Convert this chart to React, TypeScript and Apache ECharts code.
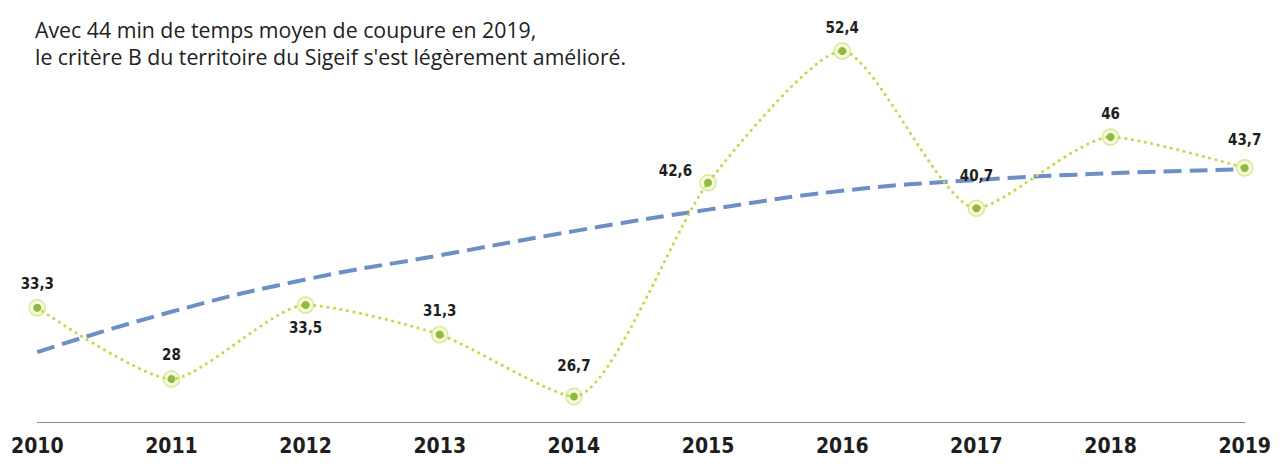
import React, { useEffect, useRef } from "react";
import * as echarts from "echarts";

const years = ["2010", "2011", "2012", "2013", "2014", "2015", "2016", "2017", "2018", "2019"];
const criterionB = [33.3, 28, 33.5, 31.3, 26.7, 42.6, 52.4, 40.7, 46, 43.7];
const trend = [30.0, 33.0, 35.4, 37.2, 39.0, 40.6, 42.0, 42.8, 43.3, 43.6];
const titleLines = [
  "Avec 44 min de temps moyen de coupure en 2019,",
  "le critère B du territoire du Sigeif s'est légèrement amélioré.",
];

const NARROW = "'Liberation Sans Narrow', 'DejaVu Sans Condensed', Roboto, sans-serif";

// label placement tweaks (styling only)
const labelStyleFor = (year: string): any => {
  if (year === "2012") return { position: "bottom", distance: 11 };
  if (year === "2015") return { position: "left", distance: 12, offset: [0, -12] };
  if (year === "2014") return { distance: 19 };
  if (year === "2017") return { distance: 21 };
  if (year === "2019") return { distance: 16 };
  return undefined;
};

export default function App() {
  const ref = useRef<HTMLDivElement>(null);
  useEffect(() => {
    if (!ref.current) return;
    const chart = echarts.init(ref.current, null, { renderer: "svg" });
    const greenData = criterionB.map((v, i) => ({
      value: v,
      label: labelStyleFor(years[i]),
    }));
    const titleFont = "normal 21.3px 'Open Sans', sans-serif";
    chart.setOption({
      animation: false,
      backgroundColor: "#ffffff",
      graphic: [
        {
          type: "text",
          left: 27,
          top: 11,
          style: { text: titleLines[0], font: titleFont, fill: "#222222" },
        },
        {
          type: "text",
          left: 27,
          top: 38,
          style: { text: titleLines[1], font: titleFont, fill: "#222222" },
        },
      ],
      grid: { left: 25, right: 24, top: 43, bottom: 33 },
      xAxis: {
        type: "category",
        data: years,
        boundaryGap: false,
        axisLine: { show: true, lineStyle: { color: "#8a8a8a", width: 1 } },
        axisTick: { show: false },
        axisLabel: {
          interval: 0,
          margin: 13,
          fontFamily: NARROW,
          fontSize: 21,
          fontWeight: "bold",
          color: "#1e1e1e",
        },
        splitLine: { show: false },
      },
      yAxis: {
        type: "value",
        min: 24.8,
        max: 52.4,
        show: false,
        splitLine: { show: false },
      },
      series: [
        {
          name: "trend",
          type: "line",
          data: trend,
          smooth: true,
          symbol: "none",
          z: 1,
          lineStyle: { color: "#6d8fc5", width: 4, type: [18, 8] },
        },
        {
          name: "halo",
          type: "scatter",
          data: criterionB,
          symbol: "circle",
          symbolSize: 16,
          z: 2,
          silent: true,
          itemStyle: { color: "#f5f9dc", borderColor: "#d2e478", borderWidth: 1.5 },
        },
        {
          name: "Critère B",
          type: "line",
          data: greenData,
          smooth: 0.22,
          symbol: "circle",
          symbolSize: 8,
          z: 3,
          lineStyle: { color: "#c3d84a", width: 3, type: [0.1, 6.5], cap: "round" },
          itemStyle: { color: "#8fba3c" },
          label: {
            show: true,
            position: "top",
            distance: 12,
            fontFamily: NARROW,
            fontSize: 15,
            fontWeight: "bold",
            color: "#1e1e1e",
            formatter: (p: any) => String(p.value).replace(".", ","),
          },
        },
      ],
    });
    return () => chart.dispose();
  }, []);
  return <div ref={ref} style={{ width: 1266, height: 448 }} />;
}
